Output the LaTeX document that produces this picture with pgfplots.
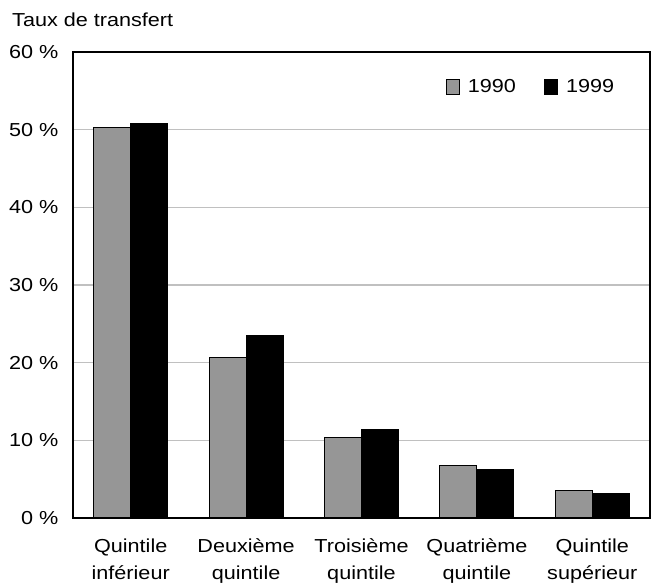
\documentclass[border=0pt]{standalone}
\usepackage{fontspec}
\setmainfont{Liberation Sans}[FakeStretch=1.15]
\usepackage{pgfplots}
\pgfplotsset{compat=1.18}
\definecolor{barg}{RGB}{150,150,150}
\definecolor{gridg}{RGB}{192,192,192}
\begin{document}
\fontsize{9.4}{13.4}\selectfont
\begin{tikzpicture}
\begin{axis}[
  scale only axis, width=288.5pt, height=233pt,
  at={(0,0)}, anchor=south west,
  xmin=-0.5, xmax=4.5, ymin=0, ymax=60,
  ybar=0pt, bar width=18.5pt,
  xtick={0,1,2,3,4},
  xticklabels={{Quintile\\inférieur},{Deuxième\\quintile},{Troisième\\quintile},{Quatrième\\quintile},{Quintile\\supérieur}},
  xticklabel style={align=center, yshift=-7pt},
  ytick={0,10,20,30,40,50,60},
  yticklabel={\pgfmathprintnumber{\tick} \%},
  yticklabel style={xshift=-4pt},
  /pgf/number format/assume math mode=true,
  ymajorgrids, grid style={gridg, line width=0.7pt},
  major tick length=0pt,
  axis line style={line width=0.8pt},
  legend columns=2,
  legend style={draw=none, fill=none, inner sep=0pt, at={(0.645,0.925)}, anchor=west,
    nodes={inner sep=0pt},
    /tikz/every odd column/.append style={column sep=4pt},
    /tikz/every even column/.append style={column sep=14pt}},
  legend image code/.code={\draw[#1, line width=0.6pt] (0pt,-3.75pt) rectangle (6.5pt,3.75pt);},
]
\addplot[draw=black, fill=barg, line width=0.5pt] coordinates {(0,50.3) (1,20.7) (2,10.4) (3,6.8) (4,3.5)};
\addplot[draw=black, fill=black, line width=0.5pt] coordinates {(0,50.8) (1,23.5) (2,11.4) (3,6.3) (4,3.2)};
\legend{1990,1999}
\draw[line width=1.4pt] (axis cs:-0.5,0) -- (axis cs:4.5,0);
\end{axis}
\node[anchor=base west, inner sep=0pt] at (-30.6pt,246pt) {Taux de transfert};
\pgfresetboundingbox
\path[use as bounding box] (-36.5pt,-34pt) rectangle (290pt,259pt);
\end{tikzpicture}
\end{document}
